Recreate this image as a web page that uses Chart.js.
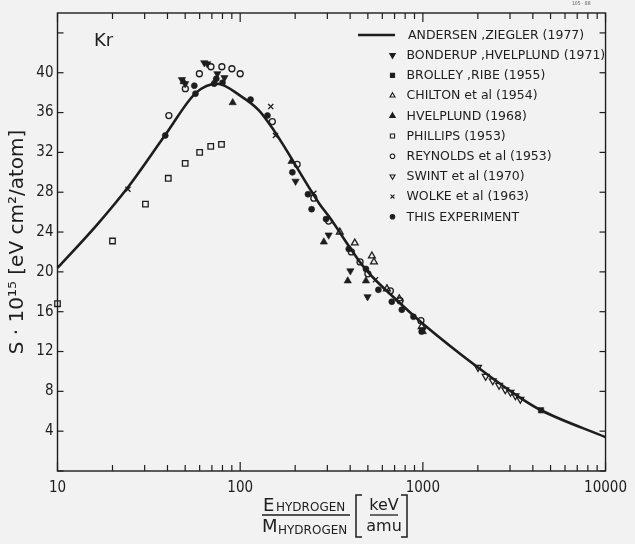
<!DOCTYPE html>
<html>
<head>
<meta charset="utf-8">
<script src="https://cdn.jsdelivr.net/npm/chart.js@4/dist/chart.umd.min.js"></script>
<style>
html,body{margin:0;padding:0;background:#f2f2f2;}
#wrap{width:635px;height:544px;position:relative;}
</style>
</head>
<body>
<div id="wrap"><canvas id="c" width="635" height="544"></canvas></div>
<script>
// ---------------- DATA ----------------
const andersenZiegler = [[10,20.4],[16.4,24.7],[24.3,28.5],[39.4,33.9],[57.4,38.0],[75,38.9],[100,37.7],[127,36.2],[153,34.2],[170,32.9],[270,26.9],[305,25.6],[484,20.3],[766,16.7],[1000,14.8],[2004,10.4],[3450,7.3],[4436,6.1],[10000,3.4]];
const bonderup = [[48,39.3],[50,38.9],[63.6,41.0],[66,40.9],[75,39.9],[82,39.5],[201,29.1],[305,23.7],[401,20.1],[498,17.5],[1000,14.2]];
const brolley = [[4436,6.1]];
const chilton = [[351,24.0],[424,22.9],[526,21.6],[540,21.0],[636,18.3],[743,17.3],[985,14.5]];
const hvelplund = [[49,39.1],[72,39.0],[91,37.0],[191,31.1],[287,23.0],[388,19.1],[488,19.1],[1000,14.0]];
const phillips = [[10,16.8],[20,23.1],[30.3,26.8],[40.4,29.4],[50,30.9],[60,32.0],[69,32.6],[79,32.8]];
const reynolds = [[40.7,35.7],[50.1,38.4],[59.8,39.9],[69.2,40.6],[79.4,40.6],[90.1,40.4],[100,39.9],[150,35.1],[205,30.8],[253,27.4],[305,25.1],[406,22.0],[453,21.0],[500,19.8],[664,18.1],[750,17.1],[976,15.1]];
const swint = [[2004,10.4],[2208,9.5],[2413,9.05],[2614,8.6],[2826,8.15],[3018,7.9],[3211,7.55],[3416,7.2]];
const wolke = [[24.3,28.3],[147,36.6],[156,33.7],[253,27.9],[550,19.2]];
const thisExperiment = [[38.9,33.7],[56.1,38.7],[56.9,37.9],[72,38.9],[74,39.4],[80,39.0],[114,37.3],[141,35.7],[193,30.0],[235,27.8],[246,26.3],[295,25.3],[393,22.3],[488,20.3],[571,18.2],[676,17.0],[767,16.2],[888,15.5],[985,14.0]];

const seriesNames = ['ANDERSEN ,ZIEGLER (1977)','BONDERUP ,HVELPLUND (1971)','BROLLEY ,RIBE (1955)','CHILTON et al (1954)','HVELPLUND (1968)','PHILLIPS (1953)','REYNOLDS et al (1953)','SWINT et al (1970)','WOLKE et al (1963)','THIS EXPERIMENT'];

const xMajorTicks = [10, 100, 1000, 10000];
const xMinorSteps = [2,3,4,5,6,7,8,9];
const yTickValues = [0,4,8,12,16,20,24,28,32,36,40,44];
const yLabelValues = [4,8,12,16,20,24,28,32,36,40];

// ---------------- STYLE ----------------
const INK = '#1d1d1d';
const BG = '#f2f2f2';
const FONT = '"DejaVu Sans Condensed", "DejaVu Sans", sans-serif';
const FONTW = '"DejaVu Sans", sans-serif';

const markerStyles = [
  null,
  {style:'triangle', rot:180, fill:true,  r:4.2},
  {style:'rect',     rot:0,   fill:true,  r:3.8},
  {style:'triangle', rot:0,   fill:false, r:3.9},
  {style:'triangle', rot:0,   fill:true,  r:4.2},
  {style:'rect',     rot:0,   fill:false, r:3.9},
  {style:'circle',   rot:0,   fill:false, r:3.0},
  {style:'triangle', rot:180, fill:false, r:3.9},
  {style:'crossRot', rot:0,   fill:false, r:3.6},
  {style:'circle',   rot:0,   fill:true,  r:3.0}
];
const seriesData = [andersenZiegler, bonderup, brolley, chilton, hvelplund, phillips, reynolds, swint, wolke, thisExperiment];

const toXY = arr => arr.map(([x,y]) => ({x, y}));

const datasets = [];
for (let i = 1; i < seriesData.length; i++) {
  const st = markerStyles[i];
  datasets.push({
    type:'scatter', label: seriesNames[i], data: toXY(seriesData[i]),
    pointStyle: st.style, pointRotation: st.rot, pointRadius: st.r, pointHoverRadius: st.r,
    pointBackgroundColor: st.fill ? INK : 'rgba(0,0,0,0)', pointBorderColor: INK,
    pointBorderWidth: st.fill ? 0.6 : 1.3, showLine:false, clip:false, order:0
  });
}
datasets.push({
  type:'line', label: seriesNames[0], data: toXY(andersenZiegler),
  borderColor: INK, borderWidth: 2.6, pointRadius: 0, fill:false,
  cubicInterpolationMode:'monotone', clip:false, order:1
});

// ---------------- helpers ----------------
function drawMarker(ctx, st, x, y, r) {
  ctx.save();
  ctx.translate(x, y);
  ctx.rotate(st.rot * Math.PI / 180);
  ctx.beginPath();
  if (st.style === 'circle') {
    ctx.arc(0, 0, r, 0, Math.PI * 2);
  } else if (st.style === 'rect') {
    const s = r * Math.SQRT1_2;
    ctx.rect(-s, -s, 2 * s, 2 * s);
  } else if (st.style === 'triangle') {
    for (let k = 0; k < 3; k++) {
      const a = -Math.PI / 2 + k * 2 * Math.PI / 3;
      const px = r * Math.cos(a), py = r * Math.sin(a);
      if (k === 0) ctx.moveTo(px, py); else ctx.lineTo(px, py);
    }
    ctx.closePath();
  } else if (st.style === 'crossRot') {
    const s = r * Math.SQRT1_2;
    ctx.moveTo(-s, -s); ctx.lineTo(s, s);
    ctx.moveTo(-s, s); ctx.lineTo(s, -s);
  }
  ctx.lineWidth = 1.1;
  ctx.strokeStyle = INK;
  ctx.fillStyle = INK;
  if (st.fill) ctx.fill();
  ctx.stroke();
  ctx.restore();
}

function line(ctx, x1, y1, x2, y2) {
  ctx.beginPath(); ctx.moveTo(x1, y1); ctx.lineTo(x2, y2); ctx.stroke();
}

const decor = {
  id: 'decor',
  beforeDraw(chart) {
    const ctx = chart.ctx;
    ctx.save(); ctx.fillStyle = BG; ctx.fillRect(0, 0, chart.width, chart.height); ctx.restore();
  },
  afterDraw(chart) {
    const {ctx, chartArea: a, scales: {x, y}} = chart;
    ctx.save();
    ctx.strokeStyle = INK;
    ctx.lineWidth = 1.4;
    ctx.strokeRect(a.left, a.top, a.right - a.left, a.bottom - a.top);
    ctx.lineWidth = 1.2;
    // y ticks (left & right, inward)
    yTickValues.forEach(v => {
      const py = y.getPixelForValue(v);
      line(ctx, a.left, py, a.left + 6, py);
      line(ctx, a.right, py, a.right - 6, py);
    });
    // x ticks (bottom & top, inward)
    xMajorTicks.forEach((m, idx) => {
      const px = x.getPixelForValue(m);
      line(ctx, px, a.bottom, px, a.bottom - 9);
      line(ctx, px, a.top, px, a.top + 9);
      if (idx < xMajorTicks.length - 1) {
        xMinorSteps.forEach(s => {
          const qx = x.getPixelForValue(m * s);
          line(ctx, qx, a.bottom, qx, a.bottom - 6);
          line(ctx, qx, a.top, qx, a.top + 6);
        });
      }
    });

    // "Kr" label
    ctx.fillStyle = INK;
    ctx.textBaseline = 'alphabetic';
    ctx.textAlign = 'left';
    ctx.font = '18px ' + FONTW;
    ctx.fillText('Kr', 94, 46);

    // small figure id
    ctx.font = '5px ' + FONT;
    ctx.fillStyle = '#555';
    ctx.fillText('105 · 88', 572, 5);

    // legend
    ctx.fillStyle = INK;
    ctx.font = '12.5px ' + FONTW;
    ctx.textBaseline = 'middle';
    const ly0 = 35, dy = 20.2;
    for (let i = 0; i < seriesNames.length; i++) {
      const yy = ly0 + i * dy;
      if (i === 0) {
        ctx.lineWidth = 2.4;
        line(ctx, 358, yy, 395, yy);
        ctx.fillText(seriesNames[i], 408, yy + 0.5);
      } else {
        drawMarker(ctx, markerStyles[i], 392.5, yy, markerStyles[i].r * 0.75);
        ctx.fillStyle = INK;
        ctx.fillText(seriesNames[i], 406.5, yy + 0.5);
      }
    }

    // x-axis title (fraction)
    ctx.textBaseline = 'alphabetic';
    ctx.fillStyle = INK;
    ctx.font = '18px ' + FONTW;
    ctx.fillText('E', 263, 511);
    ctx.fillText('M', 262, 532);
    ctx.font = '12px ' + FONTW;
    ctx.fillText('HYDROGEN', 276, 511);
    ctx.fillText('HYDROGEN', 278, 534);
    ctx.lineWidth = 1.3;
    line(ctx, 262, 515, 350, 515);
    ctx.font = '16px ' + FONTW;
    ctx.textAlign = 'center';
    ctx.fillText('keV', 384, 510);
    ctx.fillText('amu', 384, 531);
    line(ctx, 370, 515, 398, 515);
    // brackets
    ctx.lineWidth = 1.5;
    ctx.beginPath();
    ctx.moveTo(362, 495); ctx.lineTo(356, 495); ctx.lineTo(356, 537); ctx.lineTo(362, 537);
    ctx.moveTo(401, 495); ctx.lineTo(407, 495); ctx.lineTo(407, 537); ctx.lineTo(401, 537);
    ctx.stroke();
    ctx.restore();
  }
};

const isDecade = v => Math.abs(Math.log10(v) - Math.round(Math.log10(v))) < 1e-9;

new Chart(document.getElementById('c'), {
  data: { datasets },
  options: {
    responsive: false,
    animation: false,
    devicePixelRatio: 1,
    layout: { padding: { left: 0, right: 27, top: 7, bottom: 0 } },
    plugins: { legend: { display: false }, tooltip: { enabled: false } },
    scales: {
      x: {
        type: 'logarithmic', min: 10, max: 10000,
        grid: { display: false, drawTicks: false }, border: { display: false },
        ticks: {
          autoSkip: false, maxRotation: 0, minRotation: 0, padding: 8, color: INK,
          font: { family: FONT, size: 15 },
          callback: v => isDecade(v) ? String(Math.round(v)) : ''
        },
        afterFit: s => { s.height = 73; }
      },
      y: {
        type: 'linear', min: 0, max: 46,
        grid: { display: false, drawTicks: false }, border: { display: false },
        ticks: {
          stepSize: 4, padding: 4, color: INK,
          font: { family: FONT, size: 15 },
          callback: v => yLabelValues.includes(v) ? String(v) : ''
        },
        title: {
          display: true, text: 'S · 10¹⁵ [eV cm²/atom]', color: INK,
          font: { family: FONTW, size: 20 }, padding: { top: 6, bottom: 0 }
        },
        afterFit: s => { s.width = 57.5; }
      }
    }
  },
  plugins: [decor]
});
</script>
</body>
</html>
